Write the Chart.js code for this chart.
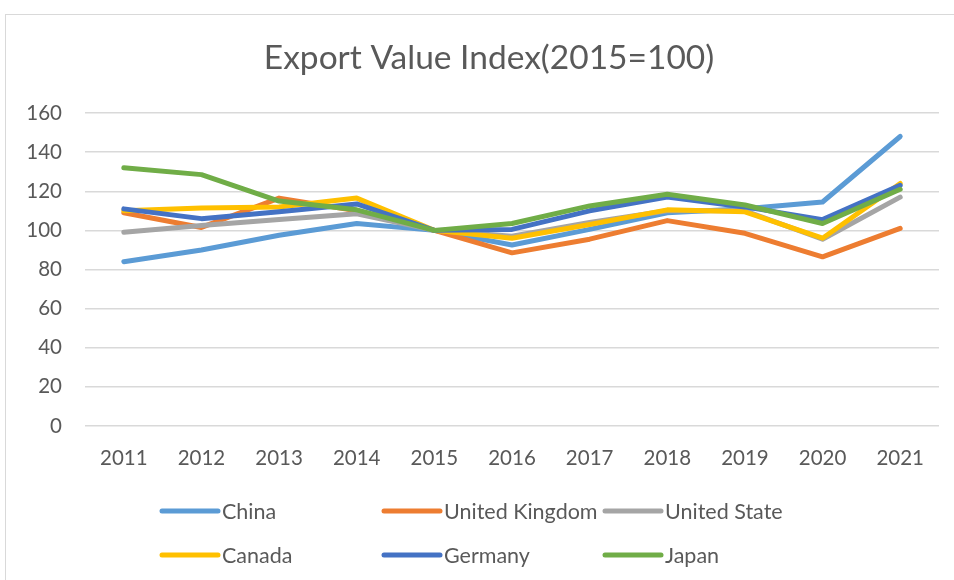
<!DOCTYPE html>
<html>
<head>
<meta charset="utf-8">
<script src="https://cdn.jsdelivr.net/npm/chart.js@4"></script>
<style>
  html, body { margin: 0; padding: 0; background: #fff; }
  #wrap { position: relative; width: 954px; height: 580px; overflow: hidden; }
  #frame { position: absolute; left: 5px; top: 14px; width: 960px; height: 600px;
           border-left: 1.5px solid #d9d9d9; border-top: 1.5px solid #d9d9d9; box-sizing: border-box; }
  canvas { position: absolute; left: 0; top: 0; }
</style>
</head>
<body>
<div id="wrap">
  <div id="frame"></div>
  <canvas id="c" width="954" height="580"></canvas>
</div>
<script>
const years = ['2011','2012','2013','2014','2015','2016','2017','2018','2019','2020','2021'];
const seriesNames = ['China','United Kingdom','United State','Canada','Germany','Japan'];
const china   = [84, 90, 97.5, 103.5, 100, 92.5, 100.5, 109, 111, 114.5, 148];
const uk      = [109, 101.5, 116.5, 110, 100, 88.5, 95.5, 105, 98.5, 86.5, 101];
const us      = [99, 102.5, 105.5, 108.5, 100, 97, 104, 110, 110, 95.5, 117];
const canada  = [110, 111.5, 112, 116.5, 100, 96, 103, 110.5, 109.5, 96, 124];
const germany = [111, 106, 109.5, 113.5, 100, 100.5, 110, 117, 112, 105.5, 123];
const japan   = [132, 128.5, 115, 110.5, 100, 103.5, 112.5, 118.5, 113, 103.5, 121];
const colors  = ['#5B9BD5','#ED7D31','#A5A5A5','#FFC000','#4472C4','#70AD47'];
const yTicks  = [0, 20, 40, 60, 80, 100, 120, 140, 160];

const FONT = 'Lato, "Open Sans", sans-serif';
const TEXT = '#595959';
const allData = [china, uk, us, canada, germany, japan];

const datasets = allData.map((d, i) => ({
  label: seriesNames[i],
  data: d,
  borderColor: colors[i],
  backgroundColor: colors[i],
  borderWidth: 5,
  borderCapStyle: 'round',
  borderJoinStyle: 'round',
  pointRadius: 0,
  pointHoverRadius: 0,
  tension: 0,
  fill: false,
  order: allData.length - i
}));

// shift the title centre to match the (wider) chart frame
const titleShift = {
  id: 'titleShift',
  afterLayout(chart) {
    if (chart.titleBlock) chart.titleBlock.left = 39;
  }
};

// custom grid legend
const legendPlugin = {
  id: 'gridLegend',
  afterDraw(chart) {
    const ctx = chart.ctx;
    const colX = [162, 384, 605];
    const rowY = [511, 555];
    ctx.save();
    chart.data.datasets.forEach((ds, i) => {
      const x = colX[i % 3];
      const y = rowY[Math.floor(i / 3)];
      ctx.strokeStyle = ds.borderColor;
      ctx.lineWidth = 5;
      ctx.lineCap = 'round';
      ctx.beginPath();
      ctx.moveTo(x, y);
      ctx.lineTo(x + 56, y);
      ctx.stroke();
      ctx.fillStyle = TEXT;
      ctx.font = '21.5px ' + FONT;
      ctx.textBaseline = 'middle';
      ctx.textAlign = 'left';
      ctx.fillText(ds.label, x + 60, y + 1);
    });
    ctx.restore();
  }
};

new Chart(document.getElementById('c'), {
  type: 'line',
  data: { labels: years, datasets: datasets },
  plugins: [titleShift, legendPlugin],
  options: {
    responsive: false,
    animation: false,
    events: [],
    layout: { padding: { left: 0, right: 15, top: 0, bottom: 94 } },
    plugins: {
      legend: { display: false },
      tooltip: { enabled: false },
      title: {
        display: true,
        text: 'Export Value Index(2015=100)',
        color: TEXT,
        font: { family: FONT, size: 33.5, weight: 'normal' },
        padding: { top: 38, bottom: 34.8 }
      }
    },
    scales: {
      x: {
        type: 'category',
        offset: true,
        grid: { display: false, drawTicks: false },
        border: { display: false },
        ticks: { color: TEXT, font: { family: FONT, size: 20.5 }, padding: 20, maxRotation: 0 },
        afterFit(scale) { scale.height = 60; }
      },
      y: {
        min: 0, max: 160,
        afterBuildTicks(scale) { scale.ticks = yTicks.map(v => ({ value: v })); },
        grid: { color: '#d9d9d9', lineWidth: 1.5, drawTicks: false },
        border: { display: false },
        ticks: { color: TEXT, font: { family: FONT, size: 20.5 }, padding: 23 },
        afterFit(scale) { scale.width = 85; }
      }
    }
  }
});
</script>
</body>
</html>
